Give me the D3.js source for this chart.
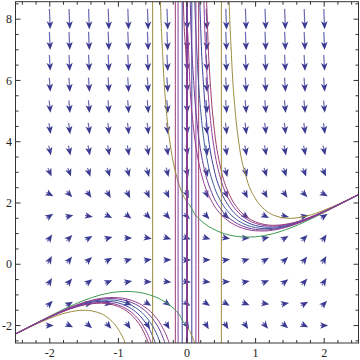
<!DOCTYPE html>
<html>
<head>
<script src="https://d3js.org/d3.v7.min.js"></script>
<style>
  body { margin: 0; background: #fff; }
  svg text { font-family: "Liberation Serif", "DejaVu Serif", serif; font-size: 12px; fill: #222; }
</style>
</head>
<body>
<svg id="plot" width="360" height="360"></svg>
<script>
// arrow grid (x columns, y rows)
const colX = [-2, -1.714, -1.429, -1.143, -0.857, -0.571, -0.286, 0, 0.286, 0.571, 0.857, 1.143, 1.429, 1.714, 2];
const rowY = [-2, -1.286, -0.571, 0.143, 0.857, 1.571, 2.286, 3, 3.714, 4.429, 5.143, 5.857, 6.571, 7.286, 8];
// slope dy/dx of each arrow, one row per rowY entry
const slopes = [
  [0, -1.06, -1.96, -2.69, -3.27, -3.67, -3.92, -4, -3.92, -3.67, -3.27, -2.69, -1.96, -1.06, 0],
  [2.35, 1.29, 0.39, -0.34, -0.92, -1.32, -1.57, -1.65, -1.57, -1.32, -0.92, -0.34, 0.39, 1.29, 2.35],
  [3.67, 2.61, 1.71, 0.98, 0.4, 0, -0.25, -0.33, -0.25, 0, 0.4, 0.98, 1.71, 2.61, 3.67],
  [3.98, 2.92, 2.02, 1.29, 0.71, 0.31, 0.06, -0.02, 0.06, 0.31, 0.71, 1.29, 2.02, 2.92, 3.98],
  [3.27, 2.21, 1.31, 0.58, 0, -0.4, -0.65, -0.73, -0.65, -0.4, 0, 0.58, 1.31, 2.21, 3.27],
  [1.53, 0.47, -0.43, -1.16, -1.74, -2.14, -2.39, -2.47, -2.39, -2.14, -1.74, -1.16, -0.43, 0.47, 1.53],
  [-1.22, -2.28, -3.18, -3.91, -4.49, -4.89, -5.14, -5.22, -5.14, -4.89, -4.49, -3.91, -3.18, -2.28, -1.22],
  [-5, -6.06, -6.96, -7.69, -8.27, -8.67, -8.92, -9, -8.92, -8.67, -8.27, -7.69, -6.96, -6.06, -5],
  [-9.8, -10.86, -11.76, -12.49, -13.07, -13.47, -13.72, -13.8, -13.72, -13.47, -13.07, -12.49, -11.76, -10.86, -9.8],
  [-15.6, -16.7, -17.6, -18.3, -18.9, -19.3, -19.5, -19.6, -19.5, -19.3, -18.9, -18.3, -17.6, -16.7, -15.6],
  [-22.4, -23.5, -24.4, -25.1, -25.7, -26.1, -26.4, -26.4, -26.4, -26.1, -25.7, -25.1, -24.4, -23.5, -22.4],
  [-30.3, -31.4, -32.3, -33, -33.6, -34, -34.2, -34.3, -34.2, -34, -33.6, -33, -32.3, -31.4, -30.3],
  [-39.2, -40.2, -41.1, -41.9, -42.5, -42.9, -43.1, -43.2, -43.1, -42.9, -42.5, -41.9, -41.1, -40.2, -39.2],
  [-49.1, -50.1, -51, -51.8, -52.4, -52.8, -53, -53.1, -53, -52.8, -52.4, -51.8, -51, -50.1, -49.1],
  [-60, -61.1, -62, -62.7, -63.3, -63.7, -63.9, -64, -63.9, -63.7, -63.3, -62.7, -62, -61.1, -60]
];

// solution curves, [x, y] samples
const greenCurve = [[-2.5,-2.269],[-2.25,-1.98],[-2,-1.693],[-1.75,-1.418],[-1.5,-1.177],[-1.25,-0.995],[-1.125,-0.934],[-1,-0.897],[-0.875,-0.886],[-0.75,-0.903],[-0.625,-0.95],[-0.5,-1.032],[-0.375,-1.157],[-0.25,-1.338],[-0.125,-1.601],[-0.001,-2],
  [0.001,2],[0.125,1.601],[0.25,1.338],[0.375,1.157],[0.5,1.032],[0.625,0.95],[0.75,0.903],[0.875,0.886],[1,0.897],[1.125,0.934],[1.25,0.995],[1.5,1.177],[1.75,1.418],[2,1.693],[2.25,1.98],[2.5,2.269]];
const magentaCurve = [[-2.5,-2.272],[-2.25,-1.987],[-2,-1.709],[-1.75,-1.453],[-1.5,-1.243],[-1.25,-1.112],[-1.125,-1.086],[-1,-1.092],[-0.875,-1.136],[-0.75,-1.227],[-0.625,-1.378],[-0.5,-1.615],[-0.375,-1.992],[-0.25,-2.635],[-0.2,-3.032],[-0.15,-3.571],[-0.1,-4.348],[-0.05,-5.556],[-0.001,-7.692],
  [0.001,7.692],[0.05,5.556],[0.1,4.348],[0.15,3.571],[0.2,3.032],[0.25,2.635],[0.375,1.992],[0.5,1.615],[0.625,1.378],[0.75,1.227],[0.875,1.136],[1,1.092],[1.125,1.086],[1.25,1.112],[1.5,1.243],[1.75,1.453],[2,1.709],[2.25,1.987],[2.5,2.272]];
const violetCurve = [[-2.5,-2.273],[-2.25,-1.988],[-2,-1.713],[-1.75,-1.46],[-1.5,-1.258],[-1.25,-1.138],[-1.125,-1.12],[-1,-1.137],[-0.875,-1.195],[-0.75,-1.307],[-0.625,-1.49],[-0.5,-1.781],[-0.375,-2.259],[-0.25,-3.129],[-0.2,-3.7],[-0.15,-4.545],[-0.1,-5.88],[-0.05,-8.33],[-0.001,-14.29],
  [0.001,14.29],[0.05,8.33],[0.1,5.88],[0.15,4.545],[0.2,3.7],[0.25,3.129],[0.375,2.259],[0.5,1.781],[0.625,1.49],[0.75,1.307],[0.875,1.195],[1,1.137],[1.125,1.12],[1.25,1.138],[1.5,1.258],[1.75,1.46],[2,1.713],[2.25,1.988],[2.5,2.273]];
const steelCurve = [[-2.5,-2.274],[-2.25,-1.99],[-2,-1.717],[-1.75,-1.47],[-1.5,-1.276],[-1.25,-1.171],[-1.125,-1.164],[-1,-1.196],[-0.875,-1.275],[-0.75,-1.417],[-0.625,-1.649],[-0.5,-2.025],[-0.4,-2.513],[-0.3,-3.339],[-0.25,-4.003],[-0.2,-5],[-0.15,-6.67],[-0.1,-10],[-0.05,-20],[-0.002,-500],
  [0.002,500],[0.05,20],[0.1,10],[0.15,6.67],[0.2,5],[0.25,4.003],[0.3,3.339],[0.4,2.513],[0.5,2.025],[0.625,1.649],[0.75,1.417],[0.875,1.275],[1,1.196],[1.125,1.164],[1.25,1.171],[1.5,1.276],[1.75,1.47],[2,1.717],[2.25,1.99],[2.5,2.274]];
const blueCurve = [[-2.5,-2.275],[-2.25,-1.991],[-2,-1.721],[-1.75,-1.48],[-1.5,-1.296],[-1.25,-1.209],[-1.125,-1.215],[-1,-1.264],[-0.875,-1.369],[-0.75,-1.55],[-0.625,-1.848],[-0.5,-2.349],[-0.4,-3.042],[-0.3,-4.353],[-0.25,-5.558],[-0.2,-7.69],[-0.15,-12.5],[-0.1,-33.3],[-0.08,-100],[-0.072,-500],
  [-0.068,500],[-0.05,50],[-0.001,14.3],[0.001,-14.3],[0.05,-50],[0.068,-500],
  [0.072,500],[0.08,100],[0.1,33.3],[0.15,12.5],[0.2,7.69],[0.25,5.558],[0.3,4.353],[0.4,3.042],[0.5,2.349],[0.625,1.848],[0.75,1.55],[0.875,1.369],[1,1.264],[1.125,1.215],[1.25,1.209],[1.5,1.296],[1.75,1.48],[2,1.721],[2.25,1.991],[2.5,2.275]];
const purpleCurve = [[-2.5,-2.276],[-2.25,-1.993],[-2,-1.726],[-1.75,-1.489],[-1.5,-1.316],[-1.25,-1.245],[-1.125,-1.264],[-1,-1.332],[-0.875,-1.464],[-0.75,-1.689],[-0.625,-2.063],[-0.5,-2.724],[-0.4,-3.714],[-0.35,-4.552],[-0.3,-5.886],[-0.25,-8.335],[-0.2,-14.3],[-0.16,-33.3],[-0.14,-100],[-0.132,-500],
  [-0.128,500],[-0.1,33],[-0.05,12.5],[-0.001,7.69],[0.001,-7.69],[0.05,-12.5],[0.1,-33],[0.128,-500],
  [0.132,500],[0.14,100],[0.16,33.3],[0.2,14.3],[0.25,8.335],[0.3,5.886],[0.35,4.552],[0.4,3.714],[0.5,2.724],[0.625,2.063],[0.75,1.689],[0.875,1.464],[1,1.332],[1.125,1.264],[1.25,1.245],[1.5,1.316],[1.75,1.489],[2,1.726],[2.25,1.993],[2.5,2.276]];
const pinkCurve = [[-2.5,-2.277],[-2.25,-1.994],[-2,-1.729],[-1.75,-1.496],[-1.5,-1.33],[-1.25,-1.271],[-1.125,-1.3],[-1,-1.383],[-0.875,-1.536],[-0.75,-1.797],[-0.625,-2.239],[-0.5,-3.05],[-0.4,-4.357],[-0.35,-5.561],[-0.3,-7.696],[-0.25,-12.5],[-0.2,-33.3],[-0.18,-100],[-0.172,-500],
  [-0.168,500],[-0.15,50],[-0.1,14.3],[-0.05,8.33],[-0.001,5.88],[0.001,-5.88],[0.05,-8.33],[0.1,-14.3],[0.15,-50],[0.168,-500],
  [0.172,500],[0.18,100],[0.2,33.3],[0.25,12.5],[0.3,7.696],[0.35,5.561],[0.4,4.357],[0.5,3.05],[0.625,2.239],[0.75,1.797],[0.875,1.536],[1,1.383],[1.125,1.3],[1.25,1.271],[1.5,1.33],[1.75,1.496],[2,1.729],[2.25,1.994],[2.5,2.277]];
const oliveCurve = [[-2.5,-2.284],[-2.25,-2.009],[-2,-1.765],[-1.75,-1.578],[-1.5,-1.499],[-1.25,-1.614],[-1.125,-1.798],[-1,-2.132],[-0.875,-2.751],[-0.75,-4.056],[-0.7,-5.054],[-0.65,-6.73],[-0.6,-10.12],[-0.55,-20.4],[-0.52,-53],[-0.502,-500],
  [-0.5,500],[-0.49,88],[-0.45,19.5],[-0.4,9.9],[-0.35,6.628],[-0.3,4.98],[-0.25,3.99],[-0.2,3.33],[-0.15,2.857],[-0.1,2.5],[-0.05,2.222],[-0.001,2],
  [0.001,-2],[0.05,-2.222],[0.1,-2.5],[0.15,-2.857],[0.2,-3.33],[0.25,-3.99],[0.3,-4.98],[0.35,-6.628],[0.4,-9.9],[0.45,-19.5],[0.49,-88],[0.5,-500],
  [0.502,500],[0.52,53],[0.55,20.4],[0.6,10.12],[0.65,6.73],[0.7,5.054],[0.75,4.056],[0.875,2.751],[1,2.132],[1.125,1.798],[1.25,1.614],[1.5,1.499],[1.75,1.578],[2,1.765],[2.25,2.009],[2.5,2.284]];

const curves = [
  { color: "#3d3d99", pts: blueCurve },
  { color: "#993d71", pts: pinkCurve },
  { color: "#998c3d", pts: oliveCurve },
  { color: "#3d9954", pts: greenCurve },
  { color: "#3d5c99", pts: steelCurve },
  { color: "#8f3d99", pts: purpleCurve },
  { color: "#6b3d99", pts: violetCurve },
  { color: "#993d8f", pts: magentaCurve }
];

const xMajor = [-2, -1, 0, 1, 2];
const xMinor = [-2.4, -2.2, -1.8, -1.6, -1.4, -1.2, -0.8, -0.6, -0.4, -0.2, 0.2, 0.4, 0.6, 0.8, 1.2, 1.4, 1.6, 1.8, 2.2, 2.4];
const yMajor = [-2, 0, 2, 4, 6, 8];
const yMinor = [-2.5, -1.5, -1, -0.5, 0.5, 1, 1.5, 2.5, 3, 3.5, 4.5, 5, 5.5, 6.5, 7, 7.5, 8.5];

const svg = d3.select("#plot");
const padL = 15.5, padR = 358.5, padT = 1.7, padB = 343;
const x = d3.scaleLinear().domain([-2.5, 2.5]).range([padL, padR]);
const y = d3.scaleLinear().domain([-2.57, 8.57]).range([padB, padT]);

svg.append("defs").append("clipPath").attr("id", "clip")
  .append("rect").attr("x", padL).attr("y", padT)
  .attr("width", padR - padL).attr("height", padB - padT);

// arrows
const mags = slopes.flat().map(s => Math.hypot(1, s));
const lenScale = d3.scaleLinear().domain([1, d3.max(mags)]).range([8, 21]);
const arrows = svg.append("g");
rowY.forEach((yv, i) => {
  colX.forEach((xv, j) => {
    const s = slopes[i][j];
    let dx = x(xv + 1) - x(xv);
    let dy = y(yv + s) - y(yv);
    const n = Math.hypot(dx, dy);
    dx /= n; dy /= n;
    const len = lenScale(Math.hypot(1, s));
    const cx = x(xv), cy = y(yv);
    const tx = cx + dx * len / 2, ty = cy + dy * len / 2;
    const sx = cx - dx * len / 2, sy = cy - dy * len / 2;
    const h = Math.min(8, len), w = 3.3;
    const bx = tx - dx * h, by = ty - dy * h;
    const nx = bx + dx * h * 0.25, ny = by + dy * h * 0.25;
    arrows.append("line")
      .attr("x1", sx).attr("y1", sy).attr("x2", nx).attr("y2", ny)
      .attr("stroke", "#6a69b2").attr("stroke-width", 1.2);
    arrows.append("path")
      .attr("d", `M${tx},${ty}L${bx - dy * w},${by + dx * w}L${nx},${ny}L${bx + dy * w},${by - dx * w}Z`)
      .attr("fill", "#3b3a93");
  });
});

// solution curves
const line = d3.line().x(d => x(d[0])).y(d => y(d[1])).curve(d3.curveMonotoneX);
svg.append("g").attr("clip-path", "url(#clip)")
  .selectAll("path").data(curves).join("path")
  .attr("d", d => line(d.pts))
  .attr("fill", "none")
  .attr("stroke", d => d.color)
  .attr("stroke-width", 1);

// frame and ticks
const frame = svg.append("g").attr("stroke", "#333").attr("stroke-width", 1);
frame.append("rect").attr("x", padL).attr("y", padT)
  .attr("width", padR - padL).attr("height", padB - padT).attr("fill", "none");
[[xMajor, 5], [xMinor, 3]].forEach(([vals, L]) => {
  vals.forEach(v => {
    frame.append("line").attr("x1", x(v)).attr("x2", x(v)).attr("y1", padB).attr("y2", padB - L);
    frame.append("line").attr("x1", x(v)).attr("x2", x(v)).attr("y1", padT).attr("y2", padT + L);
  });
});
[[yMajor, 5], [yMinor, 3]].forEach(([vals, L]) => {
  vals.forEach(v => {
    frame.append("line").attr("y1", y(v)).attr("y2", y(v)).attr("x1", padL).attr("x2", padL + L);
    frame.append("line").attr("y1", y(v)).attr("y2", y(v)).attr("x1", padR).attr("x2", padR - L);
  });
});

svg.append("g").selectAll("text").data(xMajor).join("text")
  .attr("x", d => x(d)).attr("y", 357)
  .attr("text-anchor", "middle")
  .text(d => d);
svg.append("g").selectAll("text").data(yMajor).join("text")
  .attr("x", 12).attr("y", d => y(d)).attr("dy", "0.35em")
  .attr("text-anchor", "end")
  .text(d => d);
</script>
</body>
</html>
